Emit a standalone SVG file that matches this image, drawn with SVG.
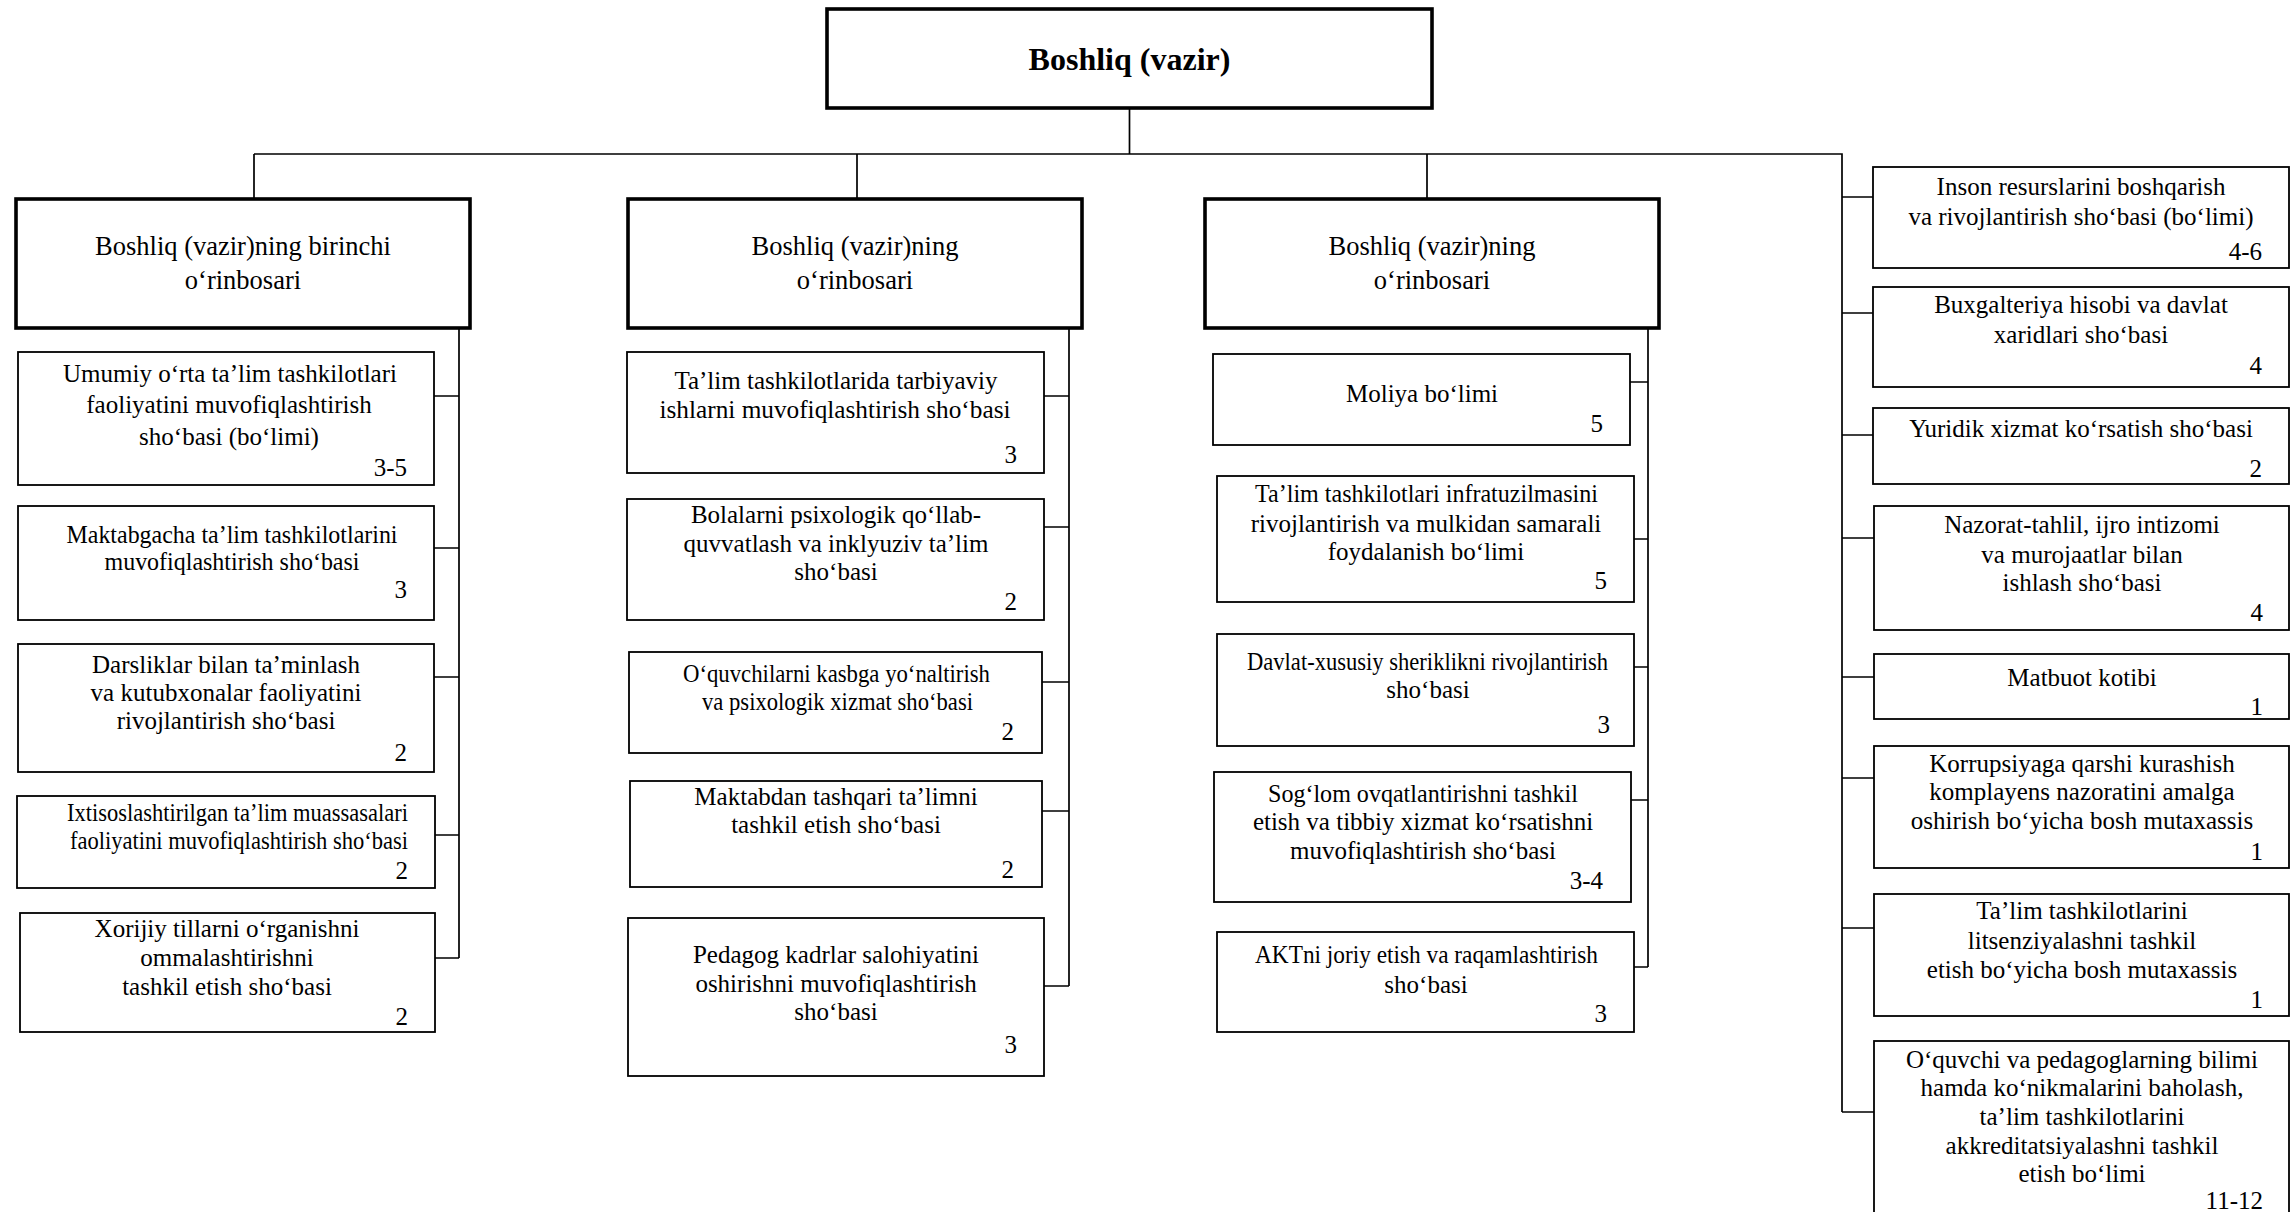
<svg xmlns="http://www.w3.org/2000/svg" width="2291" height="1212" viewBox="0 0 2291 1212">
<style>
.box{fill:#fff;stroke:#000;stroke-width:1.8}
.head{fill:#fff;stroke:#000;stroke-width:3.6}
.c{fill:none;stroke:#000;stroke-width:1.7}
text{font-family:"Liberation Serif","Times New Roman",serif;font-size:25px;fill:#000;text-anchor:middle}
.n{text-anchor:end}
.h{font-size:26.5px}
.top{font-size:32px;font-weight:bold}
</style>
<rect width="2291" height="1212" fill="#fff"/>
<g id="connectors">
<path class="c" d="M1129.5,108V154M254,154H1842V1112M254,154V199M857,154V199M1427,154V199"/>
<path class="c" d="M459,328V958M434,396H459M434,548H459M434,677H459M435,835H459M435,958H459"/>
<path class="c" d="M1069,328V986M1044,396H1069M1044,527H1069M1042,682H1069M1042,811H1069M1044,986H1069"/>
<path class="c" d="M1648,328V967M1630,382H1648M1634,539H1648M1634,667H1648M1631,800H1648M1634,967H1648"/>
<path class="c" d="M1842,197H1873M1842,313H1873M1842,435H1873M1842,538H1874M1842,677H1874M1842,778H1874M1842,928H1874M1842,1112H1874"/>
</g>
<g id="boshliq">
<rect class="head" x="827" y="9" width="605" height="99"/>
<text class="top" x="1129.5" y="70">Boshliq (vazir)</text>
</g>
<g id="head1">
<rect class="head" x="16" y="199" width="454" height="129"/>
<text class="h" x="243" y="255">Boshliq (vazir)ning birinchi</text>
<text class="h" x="243" y="289">o‘rinbosari</text>
</g>
<g id="head2">
<rect class="head" x="628" y="199" width="454" height="129"/>
<text class="h" x="855" y="255">Boshliq (vazir)ning</text>
<text class="h" x="855" y="289">o‘rinbosari</text>
</g>
<g id="head3">
<rect class="head" x="1205" y="199" width="454" height="129"/>
<text class="h" x="1432" y="255">Boshliq (vazir)ning</text>
<text class="h" x="1432" y="289">o‘rinbosari</text>
</g>
<g id="c1b1">
<rect class="box" x="18" y="352" width="416" height="133"/>
<text x="230" y="382">Umumiy o‘rta ta’lim tashkilotlari</text>
<text x="229" y="413">faoliyatini muvofiqlashtirish</text>
<text x="229" y="445">sho‘basi (bo‘limi)</text>
<text class="n" x="407" y="476">3-5</text>
</g>
<g id="c1b2">
<rect class="box" x="18" y="506" width="416" height="114"/>
<text x="232" y="543" textLength="331" lengthAdjust="spacingAndGlyphs">Maktabgacha ta’lim tashkilotlarini</text>
<text x="232" y="570" textLength="255" lengthAdjust="spacingAndGlyphs">muvofiqlashtirish sho‘basi</text>
<text class="n" x="407" y="598">3</text>
</g>
<g id="c1b3">
<rect class="box" x="18" y="644" width="416" height="128"/>
<text x="226" y="673">Darsliklar bilan ta’minlash</text>
<text x="226" y="701">va kutubxonalar faoliyatini</text>
<text x="226" y="729">rivojlantirish sho‘basi</text>
<text class="n" x="407" y="761">2</text>
</g>
<g id="c1b4">
<rect class="box" x="17" y="796" width="418" height="92"/>
<text x="237.5" y="821" textLength="341" lengthAdjust="spacingAndGlyphs">Ixtisoslashtirilgan ta’lim muassasalari</text>
<text x="239" y="849" textLength="338" lengthAdjust="spacingAndGlyphs">faoliyatini muvofiqlashtirish sho‘basi</text>
<text class="n" x="408" y="879">2</text>
</g>
<g id="c1b5">
<rect class="box" x="20" y="913" width="415" height="119"/>
<text x="227" y="937">Xorijiy tillarni o‘rganishni</text>
<text x="227" y="966">ommalashtirishni</text>
<text x="227" y="995">tashkil etish sho‘basi</text>
<text class="n" x="408" y="1025">2</text>
</g>
<g id="c2b1">
<rect class="box" x="627" y="352" width="417" height="121"/>
<text x="836" y="389">Ta’lim tashkilotlarida tarbiyaviy</text>
<text x="835" y="418" textLength="351" lengthAdjust="spacingAndGlyphs">ishlarni muvofiqlashtirish sho‘basi</text>
<text class="n" x="1017" y="463">3</text>
</g>
<g id="c2b2">
<rect class="box" x="627" y="499" width="417" height="121"/>
<text x="836" y="523">Bolalarni psixologik qo‘llab-</text>
<text x="836" y="552">quvvatlash va inklyuziv ta’lim</text>
<text x="836" y="580">sho‘basi</text>
<text class="n" x="1017" y="610">2</text>
</g>
<g id="c2b3">
<rect class="box" x="629" y="652" width="413" height="101"/>
<text x="836.5" y="682" textLength="307" lengthAdjust="spacingAndGlyphs">O‘quvchilarni kasbga yo‘naltirish</text>
<text x="837.5" y="710" textLength="271" lengthAdjust="spacingAndGlyphs">va psixologik xizmat sho‘basi</text>
<text class="n" x="1014" y="740">2</text>
</g>
<g id="c2b4">
<rect class="box" x="630" y="781" width="412" height="106"/>
<text x="836" y="805">Maktabdan tashqari ta’limni</text>
<text x="836" y="833">tashkil etish sho‘basi</text>
<text class="n" x="1014" y="878">2</text>
</g>
<g id="c2b5">
<rect class="box" x="628" y="918" width="416" height="158"/>
<text x="836" y="963">Pedagog kadrlar salohiyatini</text>
<text x="836" y="992">oshirishni muvofiqlashtirish</text>
<text x="836" y="1020">sho‘basi</text>
<text class="n" x="1017" y="1053">3</text>
</g>
<g id="c3b1">
<rect class="box" x="1213" y="354" width="417" height="91"/>
<text x="1422" y="402">Moliya bo‘limi</text>
<text class="n" x="1603" y="432">5</text>
</g>
<g id="c3b2">
<rect class="box" x="1217" y="476" width="417" height="126"/>
<text x="1426.5" y="502" textLength="343" lengthAdjust="spacingAndGlyphs">Ta’lim tashkilotlari infratuzilmasini</text>
<text x="1426" y="532">rivojlantirish va mulkidan samarali</text>
<text x="1426" y="560">foydalanish bo‘limi</text>
<text class="n" x="1607" y="589">5</text>
</g>
<g id="c3b3">
<rect class="box" x="1217" y="634" width="417" height="112"/>
<text x="1427.5" y="670" textLength="361" lengthAdjust="spacingAndGlyphs">Davlat-xususiy sheriklikni rivojlantirish</text>
<text x="1428" y="698">sho‘basi</text>
<text class="n" x="1610" y="733">3</text>
</g>
<g id="c3b4">
<rect class="box" x="1214" y="772" width="417" height="130"/>
<text x="1423" y="802" textLength="310" lengthAdjust="spacingAndGlyphs">Sog‘lom ovqatlantirishni tashkil</text>
<text x="1423" y="830">etish va tibbiy xizmat ko‘rsatishni</text>
<text x="1423" y="859">muvofiqlashtirish sho‘basi</text>
<text class="n" x="1603" y="889">3-4</text>
</g>
<g id="c3b5">
<rect class="box" x="1217" y="932" width="417" height="100"/>
<text x="1426.5" y="963" textLength="343" lengthAdjust="spacingAndGlyphs">AKTni joriy etish va raqamlashtirish</text>
<text x="1426" y="993">sho‘basi</text>
<text class="n" x="1607" y="1022">3</text>
</g>
<g id="r1">
<rect class="box" x="1873" y="167" width="416" height="101"/>
<text x="2081" y="195">Inson resurslarini boshqarish</text>
<text x="2081" y="225">va rivojlantirish sho‘basi (bo‘limi)</text>
<text class="n" x="2262" y="260">4-6</text>
</g>
<g id="r2">
<rect class="box" x="1873" y="287" width="416" height="100"/>
<text x="2081" y="313">Buxgalteriya hisobi va davlat</text>
<text x="2081" y="343">xaridlari sho‘basi</text>
<text class="n" x="2262" y="374">4</text>
</g>
<g id="r3">
<rect class="box" x="1873" y="408" width="416" height="76"/>
<text x="2081" y="437">Yuridik xizmat ko‘rsatish sho‘basi</text>
<text class="n" x="2262" y="477">2</text>
</g>
<g id="r4">
<rect class="box" x="1874" y="506" width="415" height="124"/>
<text x="2082" y="533">Nazorat-tahlil, ijro intizomi</text>
<text x="2082" y="563">va murojaatlar bilan</text>
<text x="2082" y="591">ishlash sho‘basi</text>
<text class="n" x="2263" y="621">4</text>
</g>
<g id="r5">
<rect class="box" x="1874" y="654" width="415" height="65"/>
<text x="2082" y="686">Matbuot kotibi</text>
<text class="n" x="2263" y="715">1</text>
</g>
<g id="r6">
<rect class="box" x="1874" y="746" width="415" height="122"/>
<text x="2082" y="772">Korrupsiyaga qarshi kurashish</text>
<text x="2082" y="800">komplayens nazoratini amalga</text>
<text x="2082" y="829">oshirish bo‘yicha bosh mutaxassis</text>
<text class="n" x="2263" y="860">1</text>
</g>
<g id="r7">
<rect class="box" x="1874" y="894" width="415" height="122"/>
<text x="2082" y="919">Ta’lim tashkilotlarini</text>
<text x="2082" y="949">litsenziyalashni tashkil</text>
<text x="2082" y="978">etish bo‘yicha bosh mutaxassis</text>
<text class="n" x="2263" y="1008">1</text>
</g>
<g id="r8">
<rect class="box" x="1874" y="1041" width="415" height="200"/>
<text x="2082" y="1068">O‘quvchi va pedagoglarning bilimi</text>
<text x="2082" y="1096">hamda ko‘nikmalarini baholash,</text>
<text x="2082" y="1125">ta’lim tashkilotlarini</text>
<text x="2082" y="1154">akkreditatsiyalashni tashkil</text>
<text x="2082" y="1182">etish bo‘limi</text>
<text class="n" x="2263" y="1209">11-12</text>
</g>
</svg>
